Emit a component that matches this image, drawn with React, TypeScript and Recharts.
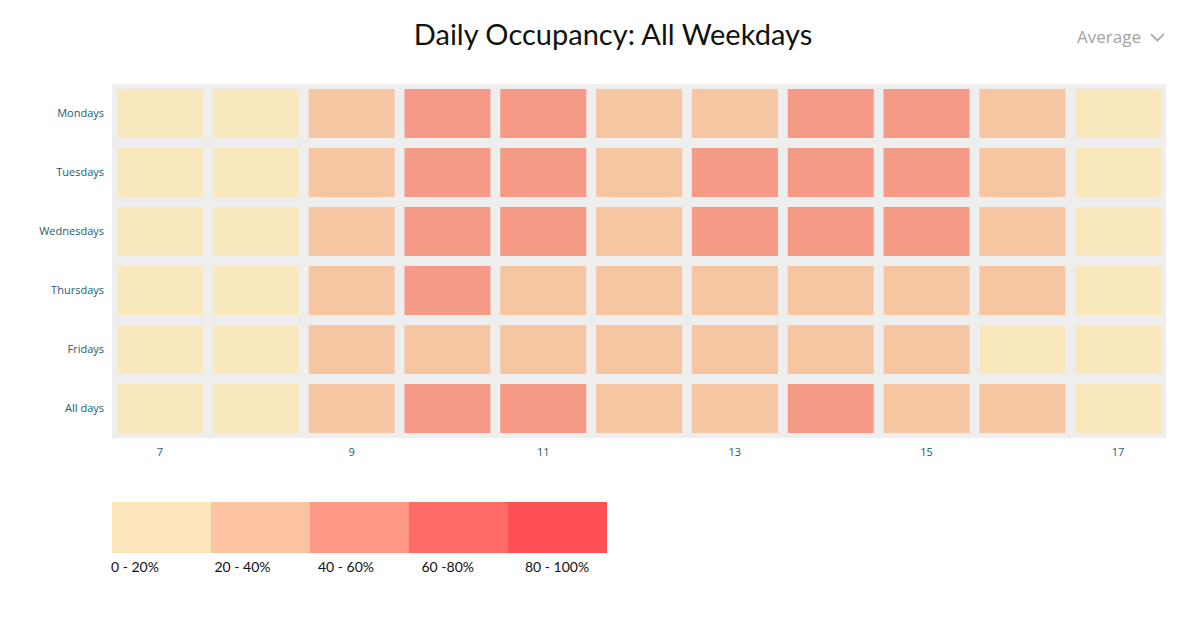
import { Bar, BarChart, CartesianGrid, Cell, XAxis, YAxis } from "recharts";

const hours = [7, 8, 9, 10, 11, 12, 13, 14, 15, 16, 17];

const mondays = [8, 12, 28, 48, 45, 33, 35, 44, 42, 30, 10];
const tuesdays = [9, 14, 31, 52, 50, 36, 42, 47, 45, 32, 11];
const wednesdays = [8, 13, 30, 50, 49, 35, 41, 46, 44, 31, 10];
const thursdays = [7, 12, 27, 43, 38, 34, 33, 36, 35, 28, 9];
const fridays = [6, 10, 24, 34, 32, 29, 27, 26, 23, 15, 7];
const allDays = [8, 12, 28, 45, 43, 33, 38, 42, 38, 30, 9];

// bottom row first, since the bars stack upwards
const rows = [
  { name: "All days", values: allDays },
  { name: "Fridays", values: fridays },
  { name: "Thursdays", values: thursdays },
  { name: "Wednesdays", values: wednesdays },
  { name: "Tuesdays", values: tuesdays },
  { name: "Mondays", values: mondays },
];

const bandLabels = ["0 - 20%", "20 - 40%", "40 - 60%", "60 -80%", "80 - 100%"];
const legendColors = ["#fde5bc", "#fec3a2", "#ff9887", "#ff6c68", "#ff5055"];
const cellColors = ["#f9e7bd", "#f6c6a3", "#f49a86", "#f2706a", "#ef5558"];

const data = hours.map((hour, i) => {
  const row: Record<string, number> = { hour };
  rows.forEach((r) => {
    row[r.name] = r.values[i];
  });
  return row;
});

const colorFor = (v: number) => cellColors[Math.min(4, Math.floor(v / 20))];

function HeatCell(props: any) {
  const { x, y, width, height, fill } = props;
  if (width == null || height == null) return null;
  const pad = 5;
  return <rect x={x + pad} y={y + pad} width={width - pad * 2} height={height - pad * 2} fill={fill} />;
}

const tickStyle = { fontSize: 11, fill: "#1f5c6a", fontFamily: "'Open Sans', sans-serif" };

export default function App() {
  return (
    <div style={{ position: "absolute", left: 0, top: 0, width: 1193, height: 630, background: "#fff" }}>
      <div
        style={{
          position: "absolute",
          left: 613,
          top: 17,
          transform: "translateX(-50%)",
          whiteSpace: "nowrap",
          fontFamily: "Lato, sans-serif",
          fontSize: 29,
          lineHeight: "34px",
          color: "#111",
        }}
      >
        Daily Occupancy: All Weekdays
      </div>
      <div
        style={{
          position: "absolute",
          left: 1077,
          top: 26,
          fontFamily: "'Open Sans', sans-serif",
          fontSize: 17,
          lineHeight: "22px",
          color: "#a3a3a3",
          display: "flex",
          alignItems: "center",
          gap: 9,
        }}
      >
        Average
        <svg width={15} height={9} viewBox="0 0 15 9">
          <polyline points="1,1 7.5,7.5 14,1" fill="none" stroke="#a3a3a3" strokeWidth={1.6} />
        </svg>
      </div>

      <BarChart
        width={1193}
        height={480}
        data={data}
        margin={{ top: 84, right: 27, bottom: 12, left: 12 }}
        barCategoryGap={0}
        barGap={0}
      >
        <CartesianGrid fill="#eeeeee" horizontal={false} vertical={false} />
        <XAxis
          dataKey="hour"
          interval={1}
          axisLine={false}
          tickLine={false}
          tickSize={0}
          tickMargin={10}
          tick={tickStyle}
        />
        <YAxis
          type="number"
          domain={[0, rows.length]}
          ticks={rows.map((_, i) => i + 0.5)}
          tickFormatter={(v: number) => rows[Math.floor(v)]?.name ?? ""}
          width={100}
          axisLine={false}
          tickLine={false}
          tickSize={0}
          tickMargin={8}
          tick={tickStyle}
        />
        {rows.map((r) => (
          <Bar
            key={r.name}
            dataKey={() => 1}
            name={r.name}
            stackId="grid"
            shape={HeatCell}
            isAnimationActive={false}
          >
            {r.values.map((v, i) => (
              <Cell key={i} fill={colorFor(v)} />
            ))}
          </Bar>
        ))}
      </BarChart>

      <div style={{ position: "absolute", left: 112, top: 502, display: "flex" }}>
        {legendColors.map((c) => (
          <div key={c} style={{ width: 99, height: 51, background: c }} />
        ))}
      </div>
      <div style={{ position: "absolute", left: 111, top: 558, display: "flex" }}>
        {bandLabels.map((t) => (
          <div
            key={t}
            style={{ width: 103.5, fontFamily: "Lato, sans-serif", fontSize: 14, color: "#111", whiteSpace: "nowrap" }}
          >
            {t}
          </div>
        ))}
      </div>
    </div>
  );
}
